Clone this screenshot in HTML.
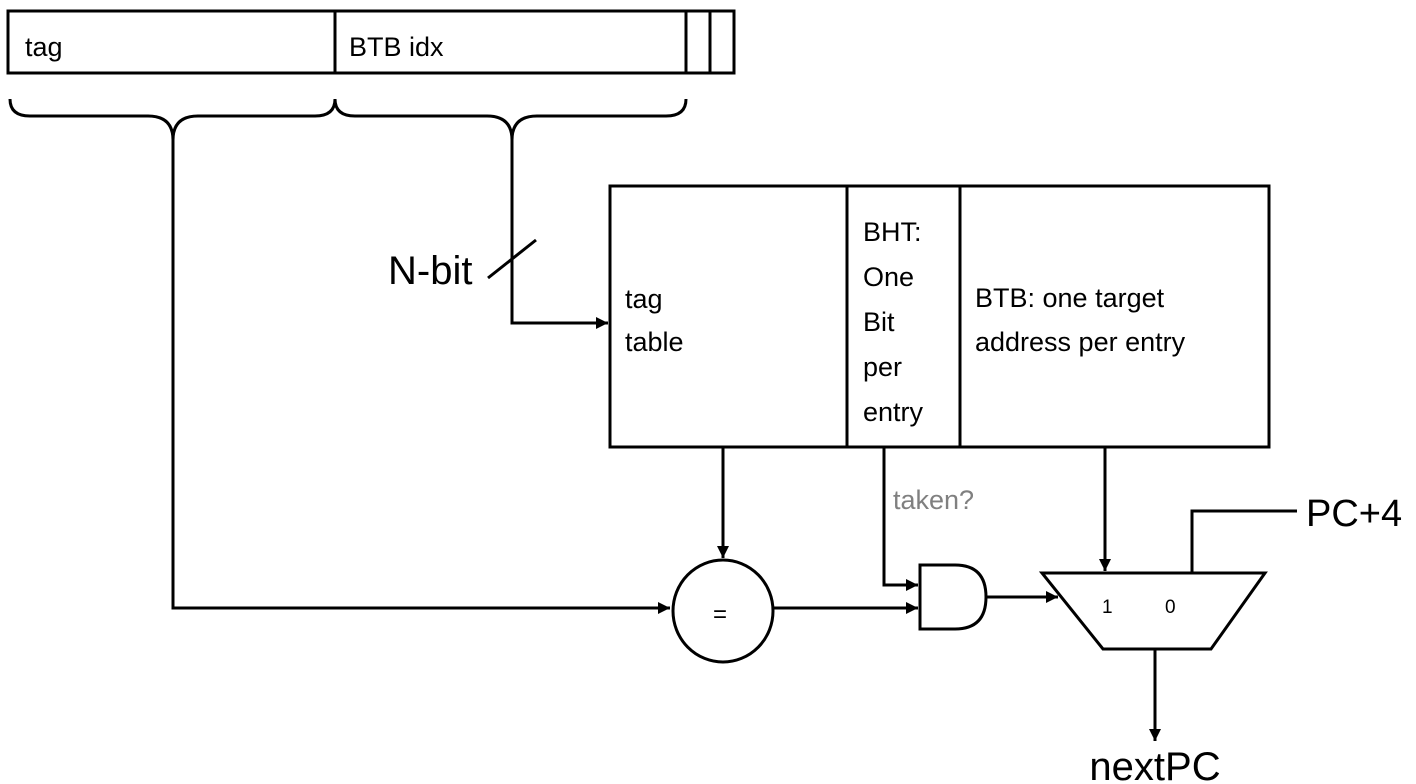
<!DOCTYPE html>
<html><head><style>
html,body{margin:0;padding:0;background:#fff;}
svg{display:block;}
text{font-family:"Liberation Sans",sans-serif;fill:#000;}
</style></head><body>
<svg width="1416" height="784" viewBox="0 0 1416 784" xmlns="http://www.w3.org/2000/svg">
<defs>
<marker id="a" viewBox="0 0 10 10" refX="10" refY="5" markerWidth="12" markerHeight="12" markerUnits="userSpaceOnUse" orient="auto">
<path d="M0,0 L10,5 L0,10 z" fill="#000"/></marker>
</defs>
<g stroke="#000" stroke-width="3" fill="none">
<rect x="8" y="11" width="726" height="62"/>
<line x1="335" y1="11" x2="335" y2="73"/>
<line x1="686" y1="11" x2="686" y2="73"/>
<line x1="710" y1="11" x2="710" y2="73"/>
<path d="M10,99 Q10,116 30,116 L148,116 Q173,116 173,140 Q173,116 198,116 L315,116 Q335,116 335,99"/>
<path d="M335,99 Q335,116 355,116 L487,116 Q512,116 512,140 Q512,116 537,116 L666,116 Q686,116 686,99"/>
<path d="M173,138 L173,608 L670,608" marker-end="url(#a)"/>
<path d="M512,138 L512,323 L608,323" marker-end="url(#a)"/>
<line x1="488" y1="278" x2="536" y2="240"/>
<rect x="610" y="186" width="659" height="261"/>
<line x1="847" y1="186" x2="847" y2="447"/>
<line x1="960" y1="186" x2="960" y2="447"/>
<ellipse cx="723" cy="611" rx="50" ry="51"/>
<path d="M723,447 L723,558" marker-end="url(#a)"/>
<path d="M884,447 L884,585 L918,585" marker-end="url(#a)"/>
<path d="M773,608 L918,608" marker-end="url(#a)"/>
<path d="M920,565 L955,565 Q986,565 986,597 Q986,629 955,629 L920,629 Z"/>
<path d="M986,597 L1058,597" marker-end="url(#a)"/>
<path d="M1042,573 L1265,573 L1211,649 L1103,649 Z"/>
<path d="M1105,447 L1105,571" marker-end="url(#a)"/>
<path d="M1192,573 L1192,511 L1297,511"/>
<path d="M1155,649 L1155,741" marker-end="url(#a)"/>
</g>
<text x="25" y="56" font-size="27">tag</text>
<text x="349" y="56" font-size="27">BTB idx</text>
<text x="388" y="284" font-size="40">N-bit</text>
<text x="625" y="308" font-size="27">tag</text>
<text x="625" y="351" font-size="27">table</text>
<text x="863" y="241" font-size="27">BHT:</text>
<text x="863" y="286" font-size="27">One</text>
<text x="863" y="331" font-size="27">Bit</text>
<text x="863" y="376" font-size="27">per</text>
<text x="863" y="421" font-size="27">entry</text>
<text x="975" y="307" font-size="27">BTB: one target</text>
<text x="975" y="351" font-size="27">address per entry</text>
<text x="893" y="509" font-size="27" style="fill:#808080">taken?</text>
<text x="713" y="622" font-size="24">=</text>
<text x="1102" y="613" font-size="19">1</text>
<text x="1165" y="613" font-size="19">0</text>
<text x="1306" y="526" font-size="38">PC+4</text>
<text x="1155" y="780" font-size="40" text-anchor="middle">nextPC</text>
</svg>
</body></html>
